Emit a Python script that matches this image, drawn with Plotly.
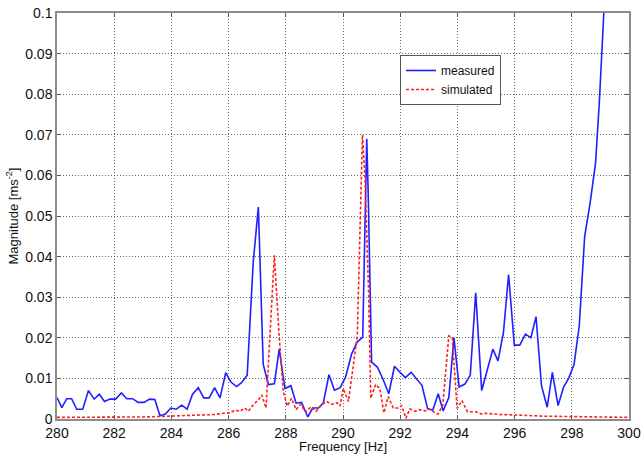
import plotly.graph_objects as go

# Measured response
freq_measured = [280.00, 280.17, 280.34, 280.51, 280.69, 280.90, 281.10, 281.30, 281.48, 281.66,
                 281.85, 282.05, 282.25, 282.44, 282.64, 282.84, 283.04, 283.24, 283.42, 283.60,
                 283.79, 283.98, 284.17, 284.36, 284.55, 284.74, 284.94, 285.13, 285.32, 285.51,
                 285.70, 285.90, 286.08, 286.28, 286.46, 286.65, 286.86, 287.04, 287.21, 287.39,
                 287.60, 287.77, 287.97, 288.18, 288.36, 288.55, 288.77, 288.94, 289.14, 289.31,
                 289.51, 289.70, 289.90, 290.09, 290.30, 290.50, 290.69, 290.83, 290.88, 291.00,
                 291.20, 291.40, 291.60, 291.80, 291.99, 292.18, 292.38, 292.57, 292.76, 292.96,
                 293.14, 293.33, 293.50, 293.70, 293.88, 294.06, 294.26, 294.45, 294.64, 294.85,
                 295.04, 295.24, 295.42, 295.61, 295.79, 295.99, 296.18, 296.38, 296.57, 296.75,
                 296.94, 297.14, 297.32, 297.52, 297.71, 297.90, 298.08, 298.26, 298.45, 298.64,
                 298.83, 298.96, 299.12, 299.30]
mag_measured = [0.0053, 0.0028, 0.0050, 0.0050, 0.0024, 0.0024, 0.0070, 0.0049, 0.0061, 0.0043,
                0.0049, 0.0049, 0.0064, 0.0050, 0.0050, 0.0041, 0.0041, 0.0049, 0.0048, 0.0008,
                0.0012, 0.0027, 0.0024, 0.0034, 0.0024, 0.0061, 0.0077, 0.0052, 0.0052, 0.0077,
                0.0052, 0.0114, 0.0091, 0.0080, 0.0090, 0.0108, 0.0385, 0.0522, 0.0135, 0.0085,
                0.0087, 0.0172, 0.0075, 0.0082, 0.0039, 0.0041, 0.0005, 0.0027, 0.0027, 0.0039,
                0.0109, 0.0071, 0.0077, 0.0103, 0.0160, 0.0190, 0.0201, 0.0690, 0.0560, 0.0140,
                0.0128, 0.0098, 0.0062, 0.0130, 0.0115, 0.0102, 0.0115, 0.0098, 0.0083, 0.0025,
                0.0022, 0.0062, 0.0020, 0.0053, 0.0200, 0.0079, 0.0086, 0.0108, 0.0311, 0.0070,
                0.0123, 0.0172, 0.0143, 0.0213, 0.0356, 0.0182, 0.0182, 0.0209, 0.0200, 0.0252,
                0.0082, 0.0029, 0.0115, 0.0033, 0.0078, 0.0102, 0.0135, 0.0229, 0.0450, 0.0532,
                0.0630, 0.0777, 0.1000, 0.1300]

# Simulated response
freq_simulated = [280.00, 281.00, 282.00, 283.00, 283.50, 284.00, 284.50, 285.00, 285.50, 285.80,
                  286.05, 286.22, 286.40, 286.57, 286.69, 286.86, 287.04, 287.16, 287.31, 287.45,
                  287.60, 287.76, 287.91, 288.05, 288.20, 288.36, 288.52, 288.70, 288.88, 289.06,
                  289.25, 289.43, 289.60, 289.78, 289.90, 290.01, 290.19, 290.36, 290.50, 290.62,
                  290.68, 290.77, 290.89, 290.97, 291.14, 291.29, 291.43, 291.58, 291.76, 291.93,
                  292.05, 292.20, 292.34, 292.52, 292.69, 292.87, 293.02, 293.15, 293.32, 293.49,
                  293.70, 293.82, 293.99, 294.16, 294.35, 294.64, 294.85, 295.00, 295.50, 296.00,
                  296.50, 297.00, 298.00, 299.00, 300.00]
mag_simulated = [0.0004, 0.0004, 0.0004, 0.0005, 0.0006, 0.0007, 0.0008, 0.0009, 0.0011, 0.0014,
                 0.0015, 0.0022, 0.0019, 0.0027, 0.0019, 0.0035, 0.0047, 0.0059, 0.0027, 0.0213,
                 0.0403, 0.0213, 0.0068, 0.0032, 0.0051, 0.0023, 0.0036, 0.0017, 0.0030, 0.0019,
                 0.0035, 0.0043, 0.0036, 0.0040, 0.0032, 0.0075, 0.0043, 0.0132, 0.0205, 0.0536,
                 0.0700, 0.0593, 0.0326, 0.0051, 0.0085, 0.0075, 0.0015, 0.0055, 0.0027, 0.0027,
                 0.0033, 0.0002, 0.0025, 0.0019, 0.0023, 0.0020, 0.0025, 0.0018, 0.0012, 0.0034,
                 0.0205, 0.0200, 0.0026, 0.0045, 0.0018, 0.0018, 0.0012, 0.0014, 0.0011, 0.0010,
                 0.0008, 0.0007, 0.0006, 0.0005, 0.0004]

x_ticks = [280, 282, 284, 286, 288, 290, 292, 294, 296, 298, 300]
y_ticks = [0, 0.01, 0.02, 0.03, 0.04, 0.05, 0.06, 0.07, 0.08, 0.09, 0.1]
y_tick_labels = ["0", "0.01", "0.02", "0.03", "0.04", "0.05", "0.06", "0.07", "0.08", "0.09", "0.1"]
x_title = "Frequency [Hz]"
y_title = "Magnitude [ms<sup>-2</sup>]"

FONT = "Liberation Sans, Arial, sans-serif"

fig = go.Figure()
fig.add_trace(go.Scatter(x=freq_measured, y=mag_measured, mode="lines", name="measured",
                         line=dict(color="#1f1fff", width=1.6)))
fig.add_trace(go.Scatter(x=freq_simulated, y=mag_simulated, mode="lines", name="simulated",
                         line=dict(color="#ff2020", width=1.6, dash="3px,2px")))

axis_common = dict(showline=True, linecolor="#8c8c8c", linewidth=1.5, mirror="ticks",
                   ticks="inside", ticklen=4, tickcolor="#555555", tickwidth=1,
                   showgrid=True, gridcolor="#6a6a6a", griddash="1px,2px", gridwidth=1,
                   zeroline=False, automargin=False,
                   tickfont=dict(family=FONT, size=14, color="#111111"))

fig.update_xaxes(range=[280, 300], tickvals=x_ticks, **axis_common)
fig.update_yaxes(range=[0, 0.1], tickvals=y_ticks, ticktext=y_tick_labels,
                 title=dict(text=y_title, font=dict(family=FONT, size=13, color="#111111"),
                            standoff=4),
                 **axis_common)

fig.add_annotation(text=x_title, xref="paper", yref="paper", x=0.5, y=-0.068,
                   xanchor="center", yanchor="middle", showarrow=False,
                   font=dict(family=FONT, size=13, color="#111111"))

fig.update_layout(
    width=643, height=460,
    margin=dict(l=57, r=14, t=13, b=41),
    paper_bgcolor="white", plot_bgcolor="white",
    showlegend=True,
    legend=dict(x=0.5997, y=0.8966, xanchor="left", yanchor="top",
                bgcolor="white", bordercolor="#555555", borderwidth=1,
                font=dict(family=FONT, size=12, color="#111111"),
                tracegroupgap=0, itemwidth=30),
)

fig.write_html("out.html")
